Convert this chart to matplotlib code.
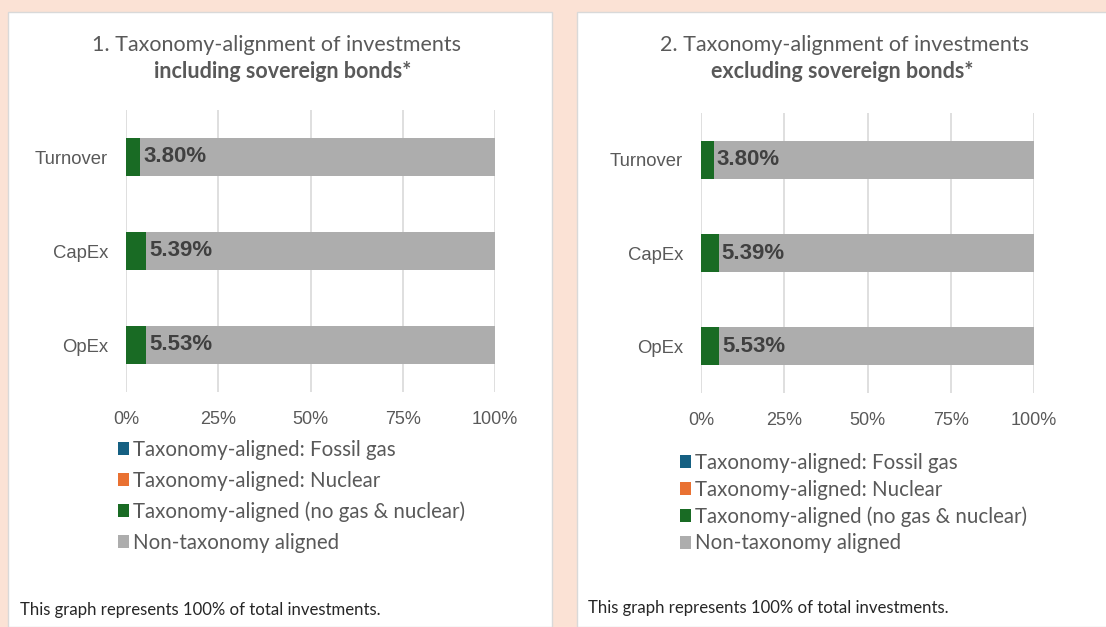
import matplotlib
matplotlib.use("Agg")
import matplotlib.pyplot as plt
from matplotlib.patches import Patch, Rectangle

# data
categories = ["Turnover", "CapEx", "OpEx"]
fossil_gas_incl = [0.0, 0.0, 0.0]
nuclear_incl = [0.0, 0.0, 0.0]
aligned_incl = [3.80, 5.39, 5.53]
fossil_gas_excl = [0.0, 0.0, 0.0]
nuclear_excl = [0.0, 0.0, 0.0]
aligned_excl = [3.80, 5.39, 5.53]
ticks = [0, 25, 50, 75, 100]
tick_labels = ["0%", "25%", "50%", "75%", "100%"]
series_names = ["Taxonomy-aligned: Fossil gas", "Taxonomy-aligned: Nuclear",
                "Taxonomy-aligned (no gas & nuclear)", "Non-taxonomy aligned"]
colors = ["#156082", "#e97132", "#196b24", "#adadad"]
titles = ["1. Taxonomy-alignment of investments", "2. Taxonomy-alignment of investments"]
subtitles = ["including sovereign bonds*", "excluding sovereign bonds*"]
footnote = "This graph represents 100% of total investments."

W, H = 1106, 627
fig = plt.figure(figsize=(W / 100, H / 100), dpi=100, facecolor="#fbe2d5")


def fx(px):
    return px / W


def fy(py):
    return 1 - py / H


# white panels
for x0, x1 in [(8, 552), (577, 1110)]:
    fig.patches.append(Rectangle((fx(x0), 0), fx(x1 - x0), fy(12), transform=fig.transFigure,
                                 facecolor="white", edgecolor="#d9d9d9", lw=1, zorder=-5))


def draw(ax, gas, nuc, aligned):
    y = list(range(len(categories)))
    left = [0] * len(y)
    non_aligned = [100 - g - n - a for g, n, a in zip(gas, nuc, aligned)]
    for vals, c in zip([gas, nuc, aligned, non_aligned], colors):
        ax.barh(y, vals, left=left, color=c, height=0.41, zorder=2)
        left = [l + v for l, v in zip(left, vals)]
    for yi, a in zip(y, aligned):
        ax.text(a + 0.8, yi, f"{a:.2f}%", va="center", ha="left", fontsize=16,
                fontweight="bold", color="#404040", family="Liberation Sans", zorder=3)
    ax.set_ylim(len(y) - 0.5, -0.5)
    ax.set_xlim(0, 100)
    ax.set_yticks(y)
    ax.set_yticklabels(categories, family="Liberation Sans", fontsize=13.3, color="#595959")
    ax.set_xticks(ticks)
    ax.set_xticklabels(tick_labels, family="Liberation Sans", fontsize=13, color="#595959")
    ax.grid(axis="x", color="#d9d9d9", lw=1.2, zorder=0)
    ax.tick_params(length=0)
    ax.tick_params(axis="y", pad=13)
    ax.tick_params(axis="x", pad=14)
    for s in ax.spines.values():
        s.set_visible(False)
    ax.set_facecolor("none")
    ax.set_zorder(2)


ax1 = fig.add_axes([fx(126), fy(392), fx(495 - 126), (392 - 110) / H])
draw(ax1, fossil_gas_incl, nuclear_incl, aligned_incl)
ax2 = fig.add_axes([fx(701), fy(393), fx(1034 - 701), (393 - 113) / H])
draw(ax2, fossil_gas_excl, nuclear_excl, aligned_excl)

# titles
for cx, cx2, t, st in [(277, 283, titles[0], subtitles[0]), (844, 842, titles[1], subtitles[1])]:
    fig.text(fx(cx), fy(45), t, ha="center", va="center", fontsize=15.5, color="#595959", family="Lato")
    fig.text(fx(cx2), fy(71), st, ha="center", va="center", fontsize=15.5, color="#595959",
             family="Lato", fontweight="bold")

handles = [Patch(facecolor=c, edgecolor="none") for c in colors]
leg_kw = dict(frameon=False, handlelength=0.55, handleheight=0.6, handletextpad=0.2,
              borderpad=0, borderaxespad=0, prop={"family": "Lato", "size": 14.8})
fig.legend(handles, series_names, loc="upper left", bbox_to_anchor=(fx(118), fy(440)),
           labelspacing=0.52, labelcolor="#595959", **leg_kw)
fig.legend(handles, series_names, loc="upper left", bbox_to_anchor=(fx(680), fy(453)),
           labelspacing=0.32, labelcolor="#595959", **leg_kw)

fig.text(fx(20), fy(610), footnote, ha="left", va="center", fontsize=12.1, color="#262626",
         family="Lato")
fig.text(fx(588), fy(608), footnote, ha="left", va="center", fontsize=12.1, color="#262626",
         family="Lato")

fig.savefig("out.png", dpi=100, facecolor=fig.get_facecolor())
